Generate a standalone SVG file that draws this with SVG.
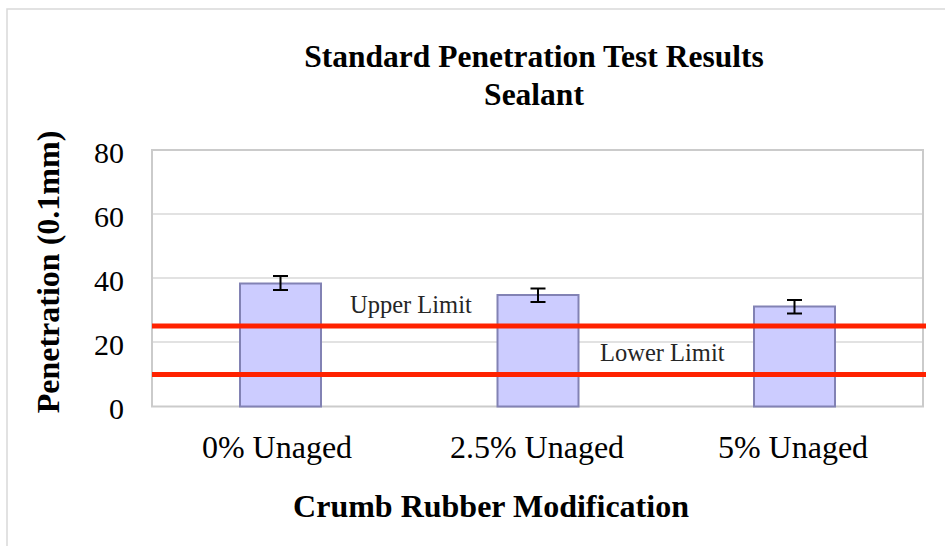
<svg xmlns="http://www.w3.org/2000/svg" width="945" height="546" viewBox="0 0 945 546">
<style>
.t{font-family:"Liberation Serif","Times New Roman",serif;fill:#000}
.b{font-weight:bold}
.tick{font-size:30px;text-anchor:end}
.cat{font-size:32px;text-anchor:middle}
.lim{font-family:"Liberation Serif",serif;font-size:24.5px;fill:#262626}
.grid{stroke:#d9d9d9;stroke-width:1.5}
.bar{fill:#ccccff;stroke:#8282b4;stroke-width:2}
.err{stroke:#000;stroke-width:2;fill:none}
.red{stroke:#ff2200;stroke-width:5}
</style>
<rect x="0" y="0" width="945" height="546" fill="#fff"/>
<path d="M7,546 V9 H945" fill="none" stroke="#d9d9d9" stroke-width="1.5"/>
<g id="title">
<text class="t b" x="534" y="67" font-size="31.5" text-anchor="middle">Standard Penetration Test Results</text>
<text class="t b" x="534" y="105" font-size="31.5" text-anchor="middle">Sealant</text>
</g>
<g id="plot">
<line class="grid" x1="152" y1="214" x2="923" y2="214"/>
<line class="grid" x1="152" y1="278" x2="923" y2="278"/>
<line class="grid" x1="152" y1="342" x2="923" y2="342"/>
<rect x="152" y="150" width="771" height="256.5" fill="none" stroke="#cbcbcb" stroke-width="2"/>
</g>
<g id="yaxis">
<text class="t tick" x="124" y="163">80</text>
<text class="t tick" x="124" y="227">60</text>
<text class="t tick" x="124" y="291">40</text>
<text class="t tick" x="124" y="355">20</text>
<text class="t tick" x="124" y="419">0</text>
<text class="t b" font-size="32" text-anchor="middle" transform="translate(59,272) rotate(-90)">Penetration (0.1mm)</text>
</g>
<g id="bar1">
<rect class="bar" x="240" y="283.5" width="81" height="123"/>
<path class="err" d="M280.5,276 V290 M273,276 H288 M273,290 H288"/>
</g>
<g id="bar2">
<rect class="bar" x="497.5" y="295" width="81" height="111.5"/>
<path class="err" d="M538,288.5 V302 M530.5,288.5 H545.5 M530.5,302 H545.5"/>
</g>
<g id="bar3">
<rect class="bar" x="754" y="306.5" width="81" height="100"/>
<path class="err" d="M794.5,300 V313.5 M787,300 H802 M787,313.5 H802"/>
</g>
<g id="connectors">
<line class="red" x1="152" y1="326" x2="926" y2="326"/>
<line class="red" x1="152" y1="374.5" x2="926" y2="374.5"/>
</g>
<g id="limits">
<text class="lim" x="350" y="313">Upper Limit</text>
<text class="lim" x="600" y="361">Lower Limit</text>
</g>
<g id="xaxis">
<text class="t cat" x="277" y="458">0% Unaged</text>
<text class="t cat" x="537" y="458">2.5% Unaged</text>
<text class="t cat" x="793" y="458">5% Unaged</text>
<text class="t b" x="491" y="517" font-size="32" text-anchor="middle">Crumb Rubber Modification</text>
</g>
</svg>
